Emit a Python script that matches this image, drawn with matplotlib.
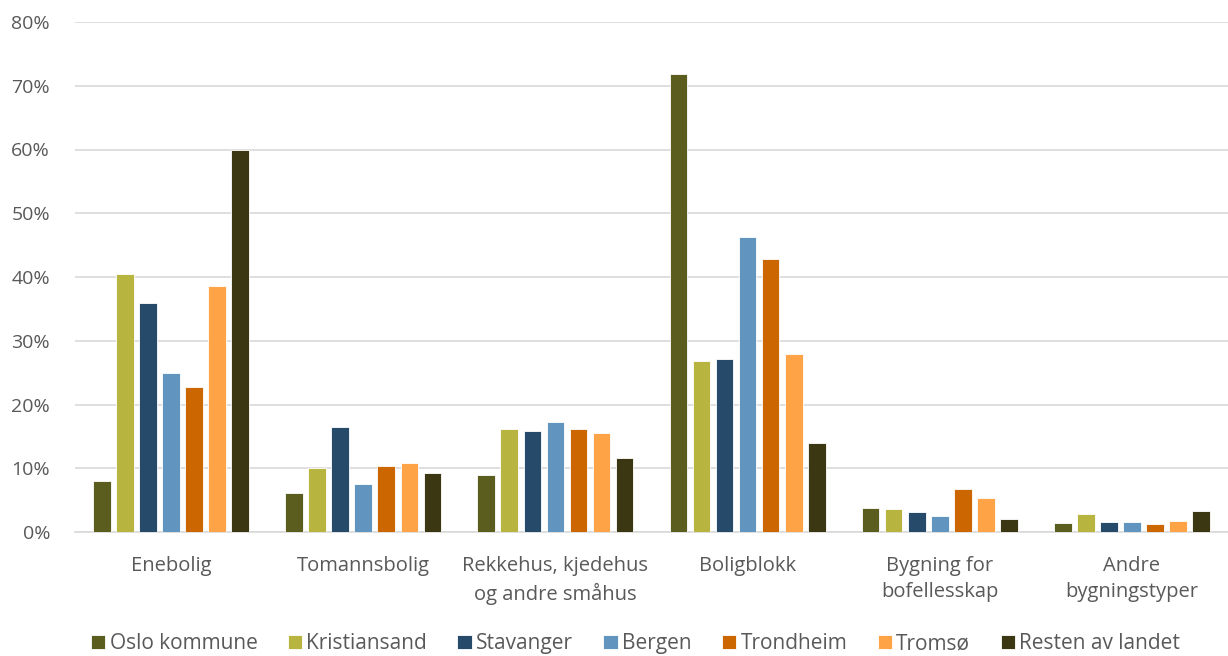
import matplotlib
matplotlib.use("Agg")
import matplotlib.pyplot as plt
import numpy as np
from matplotlib.ticker import FuncFormatter

categories = ["Enebolig", "Tomannsbolig", "Rekkehus, kjedehus\nog andre småhus",
              "Boligblokk", "Bygning for\nbofellesskap", "Andre\nbygningstyper"]
series_names = ["Oslo kommune", "Kristiansand", "Stavanger", "Bergen",
                "Trondheim", "Tromsø", "Resten av landet"]
oslo = [8.0, 6.1, 9.0, 71.8, 3.8, 1.4]
kristiansand = [40.5, 10.0, 16.1, 26.8, 3.6, 2.9]
stavanger = [35.9, 16.5, 15.8, 27.2, 3.2, 1.5]
bergen = [25.0, 7.5, 17.3, 46.2, 2.5, 1.5]
trondheim = [22.8, 10.4, 16.1, 42.8, 6.7, 1.3]
tromso = [38.6, 10.8, 15.6, 27.9, 5.4, 1.8]
resten = [60.0, 9.2, 11.6, 13.9, 2.0, 3.3]
values = [oslo, kristiansand, stavanger, bergen, trondheim, tromso, resten]
colors = ["#5B5D1F", "#B8B440", "#264A69", "#6195C0", "#CC6600", "#FFA347", "#3A3712"]

plt.rcParams['font.family'] = ['Open Sans', 'DejaVu Sans']
fig = plt.figure(figsize=(12.28, 6.56), dpi=100)
ax = fig.add_axes([75/1228, 1 - 532/656, 1153/1228, 510/656])

x = np.arange(len(categories))
step = 0.12
width = 0.092
n = len(series_names)
for i, (name, vals, c) in enumerate(zip(series_names, values, colors)):
    ax.bar(x + (i - (n - 1) / 2) * step, vals, width, color=c, label=name,
           edgecolor="white", linewidth=0.6, zorder=3)

ax.set_xlim(-0.5, len(categories) - 0.5)
ax.set_ylim(0, 80)
ax.set_yticks(np.arange(0, 81, 10))
ax.yaxis.set_major_formatter(FuncFormatter(lambda v, p: f"{int(v)}%"))
ax.set_xticks(x)
ax.set_xticklabels(categories, linespacing=1.45, fontsize=14.5)
ax.grid(axis="y", color="#D9D9D9", linewidth=1.2, zorder=0)
for s in ["top", "right", "left"]:
    ax.spines[s].set_visible(False)
ax.spines["bottom"].set_color("#D9D9D9")
ax.spines["bottom"].set_linewidth(1.2)
ax.tick_params(axis="both", length=0, colors="#595959")
ax.tick_params(axis="y", labelsize=14, pad=18)
ax.tick_params(axis="x", pad=17)

leg = fig.legend(loc="lower left", bbox_to_anchor=(72/1228, -0.026), ncol=7, frameon=False,
                 fontsize=15, handlelength=0.7, handleheight=0.7, handletextpad=0.2,
                 columnspacing=1.45, labelcolor="#595959")
fig.savefig("out.png", dpi=100)
